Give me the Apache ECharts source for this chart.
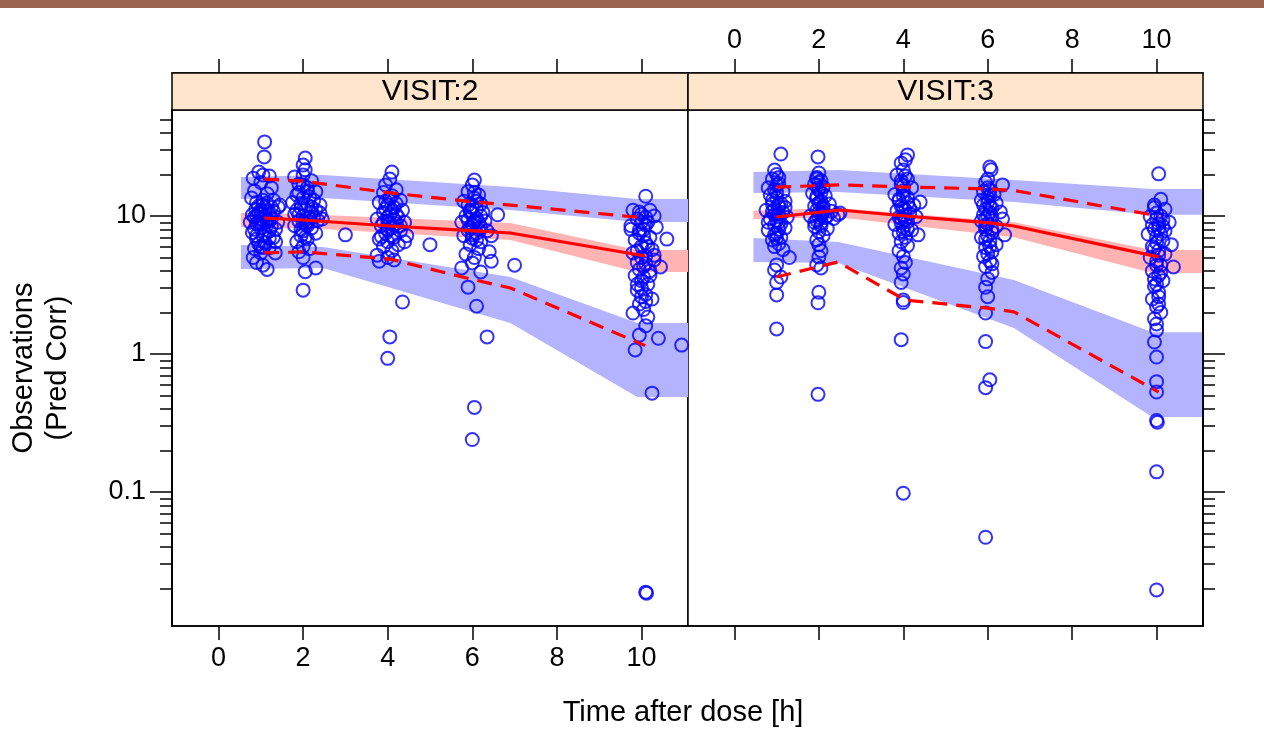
<!DOCTYPE html>
<html>
<head>
<meta charset="utf-8">
<script src="https://cdn.jsdelivr.net/npm/echarts@6/dist/echarts.min.js"></script>
<style>
  html, body { margin: 0; padding: 0; background: #fff; }
  #chart { width: 1264px; height: 751px; }
</style>
</head>
<body>
<div id="chart"></div>
<script>
const panels = ['VISIT:2', 'VISIT:3']
const xTicks = [0, 2, 4, 6, 8, 10]
const yMajor = [0.1, 1, 10]
const yMinor = [0.02, 0.03, 0.04, 0.05, 0.06, 0.07, 0.08, 0.09,
  0.2, 0.3, 0.4, 0.5, 0.6, 0.7, 0.8, 0.9,
  2, 3, 4, 5, 6, 7, 8, 9, 20, 30, 40, 50]

// observations, [time, value]
const obsV2 = [
  [1.09, 34.4], [1.08, 26.8], [0.95, 20.8], [1.05, 19.8], [0.82, 18.8], [1.2, 19.5], [1.0, 17.5], [1.25, 16.0],
  [0.85, 15.2], [0.78, 13.5], [1.15, 14.5], [1.3, 13.0], [0.9, 12.5], [1.05, 12.0], [1.41, 11.6], [1.45, 12.0],
  [0.8, 10.2], [0.85, 9.8], [0.95, 10.5], [1.0, 9.5], [1.1, 10.0], [1.2, 9.2], [0.9, 8.8], [1.0, 8.2],
  [1.15, 8.6], [1.25, 9.6], [0.8, 7.6], [1.05, 7.2], [1.2, 7.8], [0.9, 6.8], [1.1, 6.4], [1.3, 7.0],
  [1.0, 6.0], [0.85, 5.8], [1.2, 5.9], [1.35, 6.5], [1.0, 11.0], [1.1, 11.5], [0.88, 11.2], [1.3, 10.8],
  [1.4, 9.0], [1.35, 8.0], [0.75, 9.0], [1.0, 5.4], [0.9, 4.6], [1.05, 4.4], [1.15, 4.1], [1.34, 5.4], [0.82, 5.0],
  [0.95, 9.0], [1.05, 8.9], [1.15, 9.4], [0.9, 10.0], [1.0, 10.4], [1.1, 10.8], [1.2, 10.3], [1.25, 11.5],
  [0.95, 11.8], [1.05, 13.0], [1.15, 12.4], [0.9, 7.2], [1.1, 7.5], [1.2, 6.9], [0.95, 6.3], [1.05, 5.9],
  [1.25, 8.4], [0.85, 8.0],
  [2.05, 26.3], [2.0, 23.4], [2.05, 21.6], [2.0, 19.8], [1.8, 19.2], [2.2, 18.0], [1.9, 17.0], [2.1, 16.0],
  [2.3, 15.0], [1.85, 14.2], [2.0, 13.5], [2.25, 13.0], [1.75, 12.5], [2.1, 12.0], [1.95, 11.4], [2.3, 11.0],
  [2.4, 10.5], [1.8, 10.3], [2.0, 10.0], [2.15, 9.7], [1.9, 9.2], [2.35, 9.3], [2.05, 8.8], [1.8, 8.5],
  [2.2, 8.2], [2.0, 7.8], [1.95, 7.2], [2.1, 6.8], [2.3, 7.5], [1.85, 6.5], [2.0, 6.0], [2.15, 5.8],
  [1.9, 5.5], [2.0, 5.0], [2.3, 4.2], [2.05, 3.95], [2.0, 2.9], [2.45, 9.5], [2.4, 12.0],
  [2.0, 9.0], [2.1, 9.1], [1.9, 10.2], [2.2, 10.6], [2.05, 11.1], [1.95, 12.3], [2.15, 13.8], [1.9, 14.8],
  [2.1, 8.5], [2.25, 9.8], [1.95, 8.0], [2.05, 7.0], [2.2, 11.6], [1.85, 11.0], [2.1, 15.2], [2.0, 16.8],
  [3.0, 7.3],
  [4.1, 20.8], [4.05, 18.5], [3.95, 16.8], [4.2, 15.5], [3.9, 14.8], [4.1, 14.0], [4.3, 13.0], [3.8, 12.5],
  [4.0, 12.0], [4.15, 11.5], [4.35, 11.0], [3.9, 10.6], [4.05, 10.2], [4.25, 9.8], [3.75, 9.5], [4.0, 9.2],
  [4.2, 8.8], [3.85, 8.5], [4.1, 8.2], [4.3, 7.8], [3.95, 7.5], [4.15, 7.0], [3.8, 6.8], [4.0, 6.5],
  [4.25, 6.2], [4.4, 6.5], [3.9, 6.0], [4.1, 5.6], [3.75, 5.2], [4.0, 5.0], [3.8, 4.7], [4.15, 4.8],
  [4.35, 2.38], [4.05, 1.33], [4.0, 0.93], [4.45, 7.2], [4.4, 9.0],
  [4.0, 9.8], [4.1, 10.8], [3.95, 11.3], [4.2, 10.3], [4.05, 8.9], [3.9, 9.0], [4.15, 9.4], [4.0, 7.9],
  [4.1, 7.2], [3.95, 12.8], [4.2, 12.3], [4.05, 13.5], [3.85, 7.1], [4.3, 8.5],
  [5.0, 6.2],
  [6.05, 18.2], [6.0, 16.8], [5.9, 15.0], [6.15, 14.2], [6.05, 13.5], [5.8, 12.8], [6.2, 12.2], [6.0, 11.6],
  [5.95, 11.0], [6.25, 10.6], [6.6, 10.2], [5.85, 10.0], [6.1, 9.6], [6.3, 9.2], [5.75, 9.0], [6.0, 8.7],
  [6.2, 8.3], [5.9, 7.9], [6.1, 7.5], [6.35, 7.8], [5.8, 7.2], [6.0, 6.9], [6.2, 6.5], [6.45, 7.2],
  [5.95, 6.2], [6.15, 5.8], [6.4, 5.5], [5.85, 5.3], [6.05, 5.0], [5.75, 4.2], [6.0, 4.57], [6.2, 3.93],
  [6.45, 4.7], [5.9, 3.05], [6.1, 2.22], [6.35, 1.33], [6.05, 0.41], [6.0, 0.24],
  [6.0, 10.5], [6.1, 11.2], [5.9, 9.4], [6.05, 9.1], [6.15, 8.0], [5.95, 8.2], [6.1, 12.8], [5.9, 12.0],
  [6.2, 10.0], [6.0, 7.3], [6.1, 6.7], [5.95, 10.8], [6.05, 14.8], [6.15, 9.0],
  [7.0, 4.4],
  [10.1, 13.9], [9.8, 11.0], [10.2, 11.0], [10.0, 10.3], [10.3, 10.0], [9.9, 9.5], [10.15, 9.0], [9.75, 8.5],
  [10.05, 8.0], [10.35, 8.3], [9.95, 7.5], [10.2, 7.0], [9.85, 6.7], [10.1, 6.4], [10.6, 6.8], [10.0, 6.0],
  [10.25, 5.7], [9.8, 5.4], [10.1, 5.1], [10.3, 4.8], [9.9, 4.6], [10.05, 4.3], [10.45, 4.27], [10.2, 4.0],
  [9.85, 3.7], [10.0, 3.4], [10.15, 3.2], [9.9, 2.9], [10.1, 2.7], [10.25, 2.5], [9.95, 2.3], [10.05, 2.1],
  [9.8, 1.98], [10.15, 1.85], [9.95, 1.37], [9.85, 1.07], [10.4, 1.3], [10.95, 1.16], [10.1, 1.6], [10.25, 0.52],
  [10.1, 0.0188], [10.12, 0.0185], [10.3, 5.2], [9.75, 8.0],
  [10.0, 9.0], [10.1, 8.6], [9.95, 7.9], [10.05, 7.2], [10.15, 6.0], [9.9, 5.6], [10.0, 5.0], [10.1, 4.5],
  [9.95, 4.1], [10.05, 3.6], [10.0, 3.0], [10.1, 2.4], [9.9, 3.2], [10.2, 3.7], [10.0, 2.6], [10.1, 9.8], [9.95, 10.7]
]

const obsV3 = [
  [1.1, 28.1], [0.95, 21.5], [1.0, 20.0], [0.9, 18.5], [1.05, 17.2], [0.8, 16.0], [1.15, 15.0], [0.85, 14.2],
  [1.0, 13.5], [1.2, 12.8], [0.9, 12.2], [1.05, 11.6], [0.75, 11.0], [1.15, 10.6], [0.95, 10.2], [1.25, 9.8],
  [0.85, 9.5], [1.05, 9.0], [0.95, 8.6], [1.2, 8.2], [0.8, 7.9], [1.0, 7.5], [1.1, 7.0], [0.9, 6.7],
  [1.05, 6.3], [0.95, 6.0], [1.15, 5.7], [1.3, 5.0], [1.0, 4.42], [0.95, 4.06], [1.1, 3.61], [1.0, 3.3],
  [1.0, 2.68], [1.0, 1.52], [1.2, 11.5], [0.8, 9.0],
  [1.0, 9.3], [1.05, 10.3], [0.95, 11.2], [1.1, 12.3], [0.9, 13.0], [1.0, 14.8], [1.05, 8.0], [0.95, 7.3],
  [1.1, 8.8], [0.9, 10.8], [1.0, 6.9], [1.05, 12.0], [0.95, 15.5], [1.0, 16.8], [1.05, 19.0],
  [1.98, 26.8], [2.0, 20.5], [1.95, 19.0], [2.05, 18.0], [1.9, 17.0], [2.1, 16.2], [2.0, 15.5], [1.85, 14.6],
  [2.15, 14.0], [1.95, 13.4], [2.05, 12.8], [2.25, 12.2], [1.9, 11.8], [2.1, 11.3], [2.3, 10.8], [2.45, 10.2],
  [2.5, 10.5], [2.0, 10.6], [1.8, 10.0], [2.15, 9.7], [1.95, 9.3], [2.35, 9.6], [2.05, 8.9], [1.9, 8.4],
  [2.2, 8.1], [2.0, 7.7], [2.1, 7.2], [1.95, 6.7], [2.0, 6.2], [2.05, 5.6], [2.0, 5.05], [1.95, 4.42],
  [2.05, 4.2], [2.0, 2.8], [1.98, 2.35], [1.98, 0.51],
  [2.0, 9.8], [2.05, 10.2], [1.95, 11.0], [2.1, 11.8], [2.0, 12.4], [1.95, 13.9], [2.05, 14.8], [2.0, 16.0],
  [2.1, 10.6], [2.2, 10.0], [1.9, 9.0], [2.05, 8.5], [2.0, 17.5], [1.95, 18.5],
  [4.1, 27.7], [4.05, 25.5], [3.95, 24.2], [4.0, 21.5], [3.85, 19.8], [4.1, 18.5], [3.95, 17.0], [4.2, 16.0],
  [4.0, 15.2], [3.8, 14.3], [4.1, 13.6], [4.4, 12.6], [3.9, 12.9], [4.25, 12.0], [4.0, 11.4], [3.85, 10.9],
  [4.15, 10.4], [4.3, 9.9], [3.95, 9.6], [4.1, 9.1], [3.8, 8.7], [4.0, 8.3], [4.2, 7.9], [4.35, 7.3],
  [3.9, 7.5], [4.05, 7.0], [3.95, 6.5], [4.1, 6.1], [3.9, 5.6], [4.0, 5.1], [4.05, 4.6], [3.95, 4.2],
  [4.0, 3.8], [3.95, 3.3], [4.0, 2.46], [4.0, 2.36], [3.95, 1.27], [4.0, 0.098],
  [4.0, 10.0], [4.05, 11.0], [3.95, 11.8], [4.1, 12.4], [3.9, 13.2], [4.0, 14.0], [4.05, 9.4], [3.95, 8.9],
  [4.1, 8.0], [4.0, 7.7], [3.9, 9.8], [4.15, 11.4], [4.0, 16.5], [3.95, 18.0], [4.05, 19.5],
  [6.05, 22.6], [6.08, 21.6], [6.35, 16.8], [5.95, 17.5], [6.0, 16.0], [5.9, 15.0], [6.15, 14.3], [6.0, 13.6],
  [5.85, 13.0], [6.2, 12.4], [6.05, 11.8], [5.95, 11.2], [6.3, 10.7], [5.9, 10.2], [6.1, 9.8], [6.35, 9.5],
  [5.85, 9.2], [6.0, 8.8], [6.2, 8.4], [5.95, 8.0], [6.1, 7.6], [6.4, 7.3], [5.85, 7.0], [6.05, 6.6],
  [6.2, 6.2], [5.95, 5.9], [6.1, 5.5], [5.9, 5.1], [6.05, 4.7], [5.95, 4.3], [6.1, 3.9], [6.0, 3.5],
  [5.95, 3.05], [6.0, 2.6], [5.95, 1.98], [5.95, 1.23], [6.05, 0.65], [5.95, 0.57], [5.95, 0.047],
  [6.0, 10.0], [6.05, 10.6], [5.95, 9.5], [6.1, 11.4], [5.9, 12.0], [6.0, 12.6], [6.05, 14.0], [5.95, 8.5],
  [6.1, 8.0], [6.0, 7.2], [5.95, 6.8], [6.05, 6.0], [6.0, 5.3], [6.1, 4.5], [6.0, 18.5], [6.05, 15.5],
  [10.05, 20.2], [10.1, 13.2], [9.95, 12.0], [10.2, 11.2], [10.0, 10.5], [9.85, 9.9], [10.15, 9.4], [10.3, 9.0],
  [9.9, 8.6], [10.05, 8.2], [10.2, 7.8], [9.8, 7.4], [10.0, 7.0], [10.15, 6.6], [10.35, 6.2], [9.9, 6.0],
  [10.05, 5.6], [10.2, 5.3], [9.85, 5.0], [10.0, 4.7], [10.4, 4.27], [10.1, 4.4], [9.9, 4.0], [10.05, 3.7],
  [10.15, 3.4], [9.95, 3.1], [10.05, 2.8], [9.9, 2.5], [10.0, 2.2], [10.1, 2.0], [9.95, 1.8], [10.0, 1.49],
  [9.95, 1.22], [10.0, 0.95], [10.0, 0.63], [10.0, 0.53], [10.0, 0.33], [10.02, 0.32], [10.0, 0.14], [10.0, 0.0195],
  [10.0, 9.5], [10.05, 8.8], [9.95, 8.0], [10.1, 7.4], [10.0, 6.4], [9.95, 5.8], [10.05, 5.2], [10.0, 4.4],
  [10.1, 3.9], [9.95, 3.5], [10.0, 3.2], [10.05, 2.6], [10.15, 8.4], [10.1, 10.0], [9.95, 11.5], [10.0, 1.65], [10.05, 2.3]
]

// observed percentiles (median, 95th, 5th)
const medV2 = [[1.08, 9.67], [2.0, 9.35], [4.06, 8.46], [6.07, 7.79], [6.9, 7.53], [10.09, 5.13]]
const hiV2 = [[1.08, 18.5], [2.0, 17.9], [4.06, 14.7], [6.07, 12.6], [6.9, 12.0], [10.09, 9.67]]
const loV2 = [[1.08, 5.4], [2.0, 5.5], [4.06, 4.87], [6.07, 3.43], [6.9, 3.01], [10.09, 1.15]]
const medV3 = [[0.99, 9.83], [2.5, 11.05], [4.05, 10.0], [6.05, 8.9], [6.62, 8.46], [10.05, 5.05]]
const hiV3 = [[0.99, 16.2], [2.5, 16.8], [4.05, 16.2], [6.05, 15.7], [6.62, 15.3], [10.05, 10.0]]
const loV3 = [[0.99, 3.61], [2.45, 4.64], [4.05, 2.46], [6.05, 2.14], [6.62, 2.02], [10.05, 0.53]]

// simulated prediction intervals
const bandTimeV2 = [0.53, 2.47, 6.9, 9.9, 11.1]
const upLoV2 = [13.3, 13.5, 11.05, 9.05, 9.05]
const upHiV2 = [19.2, 19.8, 16.2, 13.3, 13.3]
const midLoV2 = [8.32, 8.05, 6.7, 3.93, 3.93]
const midHiV2 = [10.5, 10.17, 8.9, 5.67, 5.67]
const lowLoV2 = [4.13, 4.2, 1.68, 0.488, 0.488]
const lowHiV2 = [6.16, 5.96, 3.61, 1.68, 1.68]

const bandTimeV3 = [0.45, 2.46, 6.62, 9.9, 11.1]
const upLoV3 = [14.7, 14.9, 12.6, 10.2, 10.2]
const upHiV3 = [20.8, 21.5, 18.2, 15.7, 15.7]
const midLoV3 = [9.5, 9.8, 7.0, 3.86, 3.86]
const midHiV3 = [10.9, 11.4, 9.0, 5.67, 5.67]
const lowLoV3 = [4.64, 4.57, 1.54, 0.349, 0.349]
const lowHiV3 = [6.93, 6.48, 3.44, 1.44, 1.44]

const FONT = 'Liberation Sans, Arial, Helvetica, sans-serif'
const blueBand = '#b3b3ff'
const pinkBand = '#ffb3b3'

const chart = echarts.init(document.getElementById('chart'))

function bandSeries(axis, times, lo, hi, color) {
  return {
    type: 'custom',
    xAxisIndex: axis.x,
    yAxisIndex: axis.y,
    silent: true,
    clip: true,
    z: 1,
    data: times.map((t, i) => [t, lo[i], hi[i]]),
    encode: { x: 0, y: [1, 2] },
    renderItem: (params, api) => {
      if (params.dataIndex !== 0) return null
      const top = times.map((t, i) => api.coord([t, hi[i]]))
      const bottom = times.map((t, i) => api.coord([t, lo[i]])).reverse()
      return {
        type: 'polygon',
        shape: { points: top.concat(bottom) },
        style: { fill: color }
      }
    }
  }
}

function obsSeries(axis, data) {
  return {
    type: 'scatter',
    xAxisIndex: axis.x,
    yAxisIndex: axis.y,
    data,
    symbol: 'circle',
    symbolSize: 13,
    clip: false,
    silent: true,
    z: 3,
    itemStyle: { color: 'rgba(0,0,0,0)', borderColor: '#0000ff', borderWidth: 2 }
  }
}

function lineSeries(axis, data, dashed) {
  return {
    type: 'line',
    xAxisIndex: axis.x,
    yAxisIndex: axis.y,
    data,
    symbol: 'none',
    silent: true,
    z: 4,
    lineStyle: { color: '#ff0000', width: 3.2, type: dashed ? [15, 9] : 'solid' }
  }
}

const tickStyle = { color: '#000', width: 1.5 }

function xAxis(grid, position, labels) {
  return {
    type: 'value',
    gridIndex: grid,
    position,
    offset: position === 'top' ? 37 : 0,
    min: -1.1,
    max: 11.1,
    z: 5,
    splitLine: { show: false },
    axisLine: { show: true, onZero: false, lineStyle: tickStyle },
    axisTick: { show: true, customValues: xTicks, length: 14, lineStyle: tickStyle },
    axisLabel: {
      show: labels,
      customValues: xTicks,
      margin: 19,
      color: '#000',
      fontFamily: FONT,
      fontSize: 27
    }
  }
}

function yAxis(grid, position, ticks, len, labels) {
  return {
    type: 'log',
    logBase: 10,
    gridIndex: grid,
    position,
    min: 0.01069,
    max: 58.6,
    z: 5,
    splitLine: { show: false },
    minorTick: { show: false },
    axisLine: { show: true, onZero: false, lineStyle: tickStyle },
    axisTick: { show: true, customValues: ticks, length: len, lineStyle: tickStyle },
    axisLabel: {
      show: labels,
      customValues: ticks,
      margin: 26,
      color: '#000',
      fontFamily: FONT,
      fontSize: 27,
      formatter: v => String(v)
    }
  }
}

const p1 = { x: 0, y: 0 }
const p2 = { x: 2, y: 2 }

const yLeft = yAxis(0, 'left', yMajor, 22, true)
yLeft.name = 'Observations\n(Pred Corr)'
yLeft.nameLocation = 'middle'
yLeft.nameRotate = 90
yLeft.nameGap = 97
yLeft.nameTextStyle = { color: '#000', fontFamily: FONT, fontSize: 29, lineHeight: 34, align: 'center' }

const option = {
  animation: false,
  backgroundColor: '#fff',
  grid: [
    { left: 172, top: 110, width: 516, height: 516, show: true, borderColor: '#000', borderWidth: 1.5, backgroundColor: '#fff' },
    { left: 688, top: 110, width: 515, height: 516, show: true, borderColor: '#000', borderWidth: 1.5, backgroundColor: '#fff' }
  ],
  xAxis: [
    xAxis(0, 'bottom', true),
    xAxis(0, 'top', false),
    xAxis(1, 'bottom', false),
    xAxis(1, 'top', true)
  ],
  yAxis: [
    yLeft,
    yAxis(0, 'left', yMinor, 12, false),
    yAxis(1, 'right', yMajor, 22, false),
    yAxis(1, 'right', yMinor, 12, false)
  ],
  graphic: [
    { type: 'rect', left: 0, top: 0, shape: { width: 1264, height: 8 }, style: { fill: '#996450' } },
    { type: 'rect', x: 172, y: 73, shape: { width: 516, height: 37 }, style: { fill: '#ffe5cc', stroke: '#000', lineWidth: 1.5 }, z: 10 },
    { type: 'rect', x: 688, y: 73, shape: { width: 515, height: 37 }, style: { fill: '#ffe5cc', stroke: '#000', lineWidth: 1.5 }, z: 10 },
    { type: 'text', x: 430, y: 92, z: 11, style: { text: panels[0], fill: '#000', font: '30px ' + FONT, textAlign: 'center', textVerticalAlign: 'middle' } },
    { type: 'text', x: 945.5, y: 92, z: 11, style: { text: panels[1], fill: '#000', font: '30px ' + FONT, textAlign: 'center', textVerticalAlign: 'middle' } },
    { type: 'text', x: 683, y: 713, z: 11, style: { text: 'Time after dose [h]', fill: '#000', font: '29px ' + FONT, textAlign: 'center', textVerticalAlign: 'middle' } }
  ],
  series: [
    bandSeries(p1, bandTimeV2, upLoV2, upHiV2, blueBand),
    bandSeries(p1, bandTimeV2, midLoV2, midHiV2, pinkBand),
    bandSeries(p1, bandTimeV2, lowLoV2, lowHiV2, blueBand),
    bandSeries(p2, bandTimeV3, upLoV3, upHiV3, blueBand),
    bandSeries(p2, bandTimeV3, midLoV3, midHiV3, pinkBand),
    bandSeries(p2, bandTimeV3, lowLoV3, lowHiV3, blueBand),
    obsSeries(p1, obsV2),
    obsSeries(p2, obsV3),
    lineSeries(p1, medV2, false),
    lineSeries(p1, hiV2, true),
    lineSeries(p1, loV2, true),
    lineSeries(p2, medV3, false),
    lineSeries(p2, hiV3, true),
    lineSeries(p2, loV3, true)
  ]
}

chart.setOption(option)
window.addEventListener('resize', () => chart.resize())
</script>
</body>
</html>
